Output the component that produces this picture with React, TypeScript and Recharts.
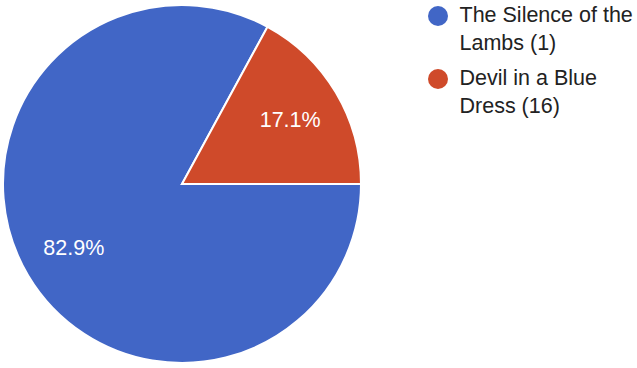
import React from 'react';
import { PieChart, Pie, Cell, Legend } from 'recharts';

const categories = ['The Silence of the Lambs (1)', 'Devil in a Blue Dress (16)'];
const counts = [34, 7];
const colors = ['#4166C6', '#CF4A2A'];

const data = categories.map((name, i) => ({ name, value: counts[i] }));

const RAD = Math.PI / 180;
const FONT = '"Liberation Sans", Arial, Helvetica, sans-serif';

const renderLabel = (props: any) => {
  const { cx, cy, midAngle, outerRadius, percent } = props;
  const r = outerRadius * 0.703;
  const x = cx + r * Math.cos(-midAngle * RAD);
  const y = cy + r * Math.sin(-midAngle * RAD);
  return (
    <text
      x={x}
      y={y}
      fill="#ffffff"
      textAnchor="middle"
      dominantBaseline="central"
      style={{ fontFamily: FONT, fontSize: 21.5 }}
    >
      {(percent * 100).toFixed(1) + '%'}
    </text>
  );
};

const renderLegend = (props: any) => {
  const payload = [...(props.payload || [])].sort(
    (a: any, b: any) => categories.indexOf(a.value) - categories.indexOf(b.value)
  );
  return (
    <div style={{ fontFamily: FONT, fontSize: 21.5, lineHeight: '28.3px', color: '#222222' }}>
      {payload.map((entry: any, i: number) => (
        <div key={i} style={{ display: 'flex', alignItems: 'flex-start', marginBottom: 6 }}>
          <div
            style={{
              width: 20,
              height: 20,
              borderRadius: 10,
              background: entry.color,
              marginTop: 5,
              marginRight: 11.5,
              flexShrink: 0,
            }}
          />
          <div style={{ width: 178 }}>{entry.value}</div>
        </div>
      ))}
    </div>
  );
};

export default function App() {
  return (
    <div style={{ position: 'absolute', left: 0, top: 0, width: 637, height: 368, background: '#fff' }}>
      <PieChart width={637} height={368} margin={{ top: 0, right: 0, bottom: 0, left: 0 }}>
        <Pie
          data={data}
          dataKey="value"
          nameKey="name"
          cx={182}
          cy={184}
          outerRadius={179}
          startAngle={61.46}
          endAngle={421.46}
          stroke="#ffffff"
          strokeWidth={2}
          label={renderLabel}
          labelLine={false}
          isAnimationActive={false}
        >
          {data.map((d, i) => (
            <Cell key={d.name} fill={colors[i]} />
          ))}
        </Pie>
        <Legend
          content={renderLegend}
          itemSorter={null as any}
          wrapperStyle={{ position: 'absolute', left: 428, top: 1, width: 209 }}
        />
      </PieChart>
    </div>
  );
}
